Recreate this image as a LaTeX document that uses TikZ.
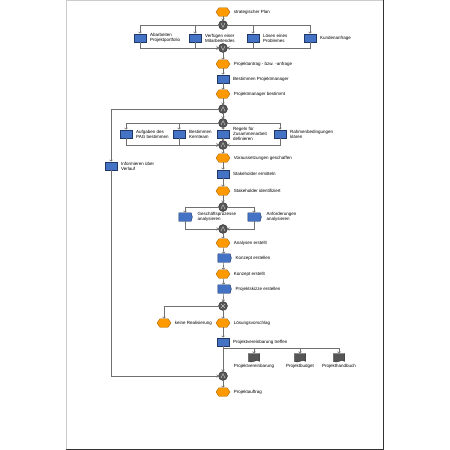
\documentclass[tikz,border=0pt]{standalone}
\usepackage{fontspec}
\setmainfont{Liberation Sans}
\usetikzlibrary{arrows.meta,shapes.symbols,calc}
\definecolor{evfill}{HTML}{FF9900}
\definecolor{evline}{HTML}{A86400}
\definecolor{fnfill}{HTML}{4472C4}
\definecolor{fnline}{HTML}{1F3864}
\definecolor{cnfill}{HTML}{555555}
\definecolor{cnline}{HTML}{333333}
\definecolor{flowc}{HTML}{707070}
\definecolor{docfill}{HTML}{555555}
\tikzset{
  evt/.style={shape=signal, signal to=east and west, signal pointer angle=110, minimum width=14pt, minimum height=8.5pt, inner sep=0pt, fill=evfill, draw=evline, line width=0.4pt},
  fn/.style={rectangle, minimum width=11.5pt, minimum height=8.5pt, inner sep=0pt, fill=fnfill, draw=fnline, line width=0.4pt},
  pfn/.style={shape=signal, signal to=east, signal pointer angle=150, minimum width=13.5pt, minimum height=8.5pt, inner sep=0pt, fill=fnfill, draw=fnline, line width=0.4pt},
  conn/.style={circle, minimum size=9pt, inner sep=0pt, fill=cnfill, draw=cnline, line width=0.4pt},
  docu/.style={shape=tape, tape bend top=none, tape bend height=1.5pt, minimum width=11.5pt, minimum height=8.5pt, inner sep=0pt, fill=docfill, draw=cnline, line width=0.4pt},
  lbl/.style={anchor=west, font=\fontsize{4.5}{5.2}\selectfont, inner sep=0pt, align=left},
  dlbl/.style={anchor=north, font=\fontsize{4.5}{5.2}\selectfont, inner sep=0pt},
  flow/.style={draw=flowc, line width=0.6pt, -{Straight Barb[length=1.3pt,width=3pt]}},
  sym/.style={draw=black!25, line width=0.5pt},
}
\newcommand\epcAnd[1]{\draw[sym] ($(#1)+(-2,2)$) -- ($(#1)+(0,-2.2)$) -- ($(#1)+(2,2)$);}
\newcommand\epcOr[1]{\draw[sym] ($(#1)+(-2,-2)$) -- ($(#1)+(0,2.2)$) -- ($(#1)+(2,-2)$);}
\newcommand\epcXor[1]{\draw[sym] ($(#1)+(-2,-2)$) -- ($(#1)+(2,2)$) ($(#1)+(2,-2)$) -- ($(#1)+(-2,2)$);}
\begin{document}
\begin{tikzpicture}[x=1pt,y=-1pt]
\useasboundingbox (0,0) rectangle (450,450);
% page
\draw[black!20, line width=0.6pt] (66,449) -- (66,0.3) -- (383,0.3);
\draw[black!80, line width=1pt] (383,0) -- (383,449) -- (66,449);

% nodes
\node[evt] (e1) at (223,12) {};
\node[conn] (c1) at (223,25) {};
\node[fn] (f1a) at (140,38) {};
\node[fn] (f1b) at (195,38) {};
\node[fn] (f1c) at (253,38) {};
\node[fn] (f1d) at (310,38) {};
\node[conn] (c2) at (223,48) {};
\node[evt] (e2) at (223,64) {};
\node[fn] (f2) at (223,79) {};
\node[evt] (e3) at (223,94) {};
\node[conn] (c3) at (223,109) {};
\node[conn] (c4) at (223,123) {};
\node[fn] (f4a) at (126,134) {};
\node[fn] (f4b) at (179,134) {};
\node[fn] (f4c) at (223,134) {};
\node[fn] (f4d) at (280,134) {};
\node[conn] (c5) at (223,145) {};
\node[evt] (e5) at (223,158) {};
\node[fn] (f5) at (223,174) {};
\node[evt] (e6) at (223,191) {};
\node[conn] (c6) at (223,207) {};
\node[pfn] (f6a) at (185,217) {};
\node[pfn] (f6b) at (254,217) {};
\node[conn] (c7) at (223,229) {};
\node[evt] (e7) at (223,243) {};
\node[pfn] (f7) at (224,258) {};
\node[evt] (e8) at (223,274) {};
\node[pfn] (f8) at (224,289) {};
\node[conn] (c8) at (223,306) {};
\node[evt] (e9a) at (164,323) {};
\node[evt] (e9b) at (223,323) {};
\node[fn] (f9) at (223,342) {};
\node[docu] (d1) at (254,357) {};
\node[docu] (d2) at (300,357) {};
\node[docu] (d3) at (339,357) {};
\node[fn] (fi) at (111,166) {};
\node[conn] (c9) at (223,376) {};
\node[evt] (e10) at (223,392) {};

% connector symbols
\epcOr{c1} \epcOr{c2} \epcAnd{c3} \epcAnd{c4} \epcAnd{c5}
\epcAnd{c6} \epcAnd{c7} \epcXor{c8} \epcAnd{c9}

% labels
\node[lbl] at ($(e1.east)+(3.5,0)$) {strategischer Plan};
\node[lbl] at ($(f1a.east)+(4,0)$) {Abarbeiten\\Projektportfolio};
\node[lbl] at ($(f1b.east)+(4,0)$) {Verfügen einer\\Mitarbeitendes};
\node[lbl] at ($(f1c.east)+(4,0)$) {Lösen eines\\Problemes};
\node[lbl] at ($(f1d.east)+(4,0)$) {Kundenanfrage};
\node[lbl] at ($(e2.east)+(3.5,0)$) {Projektantrag - bzw. -anfrage};
\node[lbl] at ($(f2.east)+(4,0)$) {Bestimmen Projektmanager};
\node[lbl] at ($(e3.east)+(3.5,0)$) {Projektmanager bestimmt};
\node[lbl] at ($(f4a.east)+(4,0)$) {Aufgaben des\\PAG bestimmen};
\node[lbl] at ($(f4b.east)+(4,0)$) {Bestimmen\\Kernteam};
\node[lbl] at ($(f4c.east)+(4,0)$) {Regeln für\\Zusammenarbeit\\definieren};
\node[lbl] at ($(f4d.east)+(4,0)$) {Rahmenbedingungen\\klären};
\node[lbl] at ($(e5.east)+(3.5,0)$) {Voraussetzungen geschaffen};
\node[lbl] at ($(f5.east)+(4,0)$) {Stakeholder ermitteln};
\node[lbl] at ($(e6.east)+(3.5,0)$) {Stakeholder identifiziert};
\node[lbl] at ($(f6a.east)+(5,0)$) {Geschäftsprozesse\\analysieren};
\node[lbl] at ($(f6b.east)+(5,0)$) {Anforderungen\\analysieren};
\node[lbl] at ($(e7.east)+(3.5,0)$) {Analysen erstellt};
\node[lbl] at ($(f7.east)+(4,0)$) {Konzept erstellen};
\node[lbl] at ($(e8.east)+(3.5,0)$) {Konzept erstellt};
\node[lbl] at ($(f8.east)+(4,0)$) {Projektskizze erstellen};
\node[lbl] at ($(e9a.east)+(3.5,0)$) {keine Realisierung};
\node[lbl] at ($(e9b.east)+(3.5,0)$) {Lösungsvorschlag};
\node[lbl] at ($(f9.east)+(4,0)$) {Projektvereinbarung treffen};
\node[dlbl] at ($(d1.south)+(0,3)$) {Projektvereinbarung};
\node[dlbl] at ($(d2.south)+(0,3)$) {Projektbudget};
\node[dlbl] at ($(d3.south)+(0,3)$) {Projekthandbuch};
\node[lbl] at ($(fi.east)+(4,0)$) {Informieren über\\Verlauf};
\node[lbl] at ($(e10.east)+(3.5,0)$) {Projektauftrag};

% connections
\draw[flow] (e1) -- (c1);
\draw[flow] (c1.west) -| (f1a.north);
\draw[flow] (c1.west) -| (f1b.north);
\draw[flow] (c1.east) -| (f1c.north);
\draw[flow] (c1.east) -| (f1d.north);
\draw[flow] (f1a.south) |- (c2.west);
\draw[flow] (f1b.south) |- (c2.west);
\draw[flow] (f1c.south) |- (c2.east);
\draw[flow] (f1d.south) |- (c2.east);
\draw[flow] (c2) -- (e2);
\draw[flow] (e2) -- (f2);
\draw[flow] (f2) -- (e3);
\draw[flow] (e3) -- (c3);
\draw[flow] (c3) -- (c4);
\draw[flow] (c3.west) -| (fi.north);
\draw[flow] (c4.west) -| (f4a.north);
\draw[flow] (c4.west) -| (f4b.north);
\draw[flow] (c4) -- (f4c);
\draw[flow] (c4.east) -| (f4d.north);
\draw[flow] (f4a.south) |- (c5.west);
\draw[flow] (f4b.south) |- (c5.west);
\draw[flow] (f4c) -- (c5);
\draw[flow] (f4d.south) |- (c5.east);
\draw[flow] (c5) -- (e5);
\draw[flow] (e5) -- (f5);
\draw[flow] (f5) -- (e6);
\draw[flow] (e6) -- (c6);
\draw[flow] (c6.west) -| (f6a.north);
\draw[flow] (c6.east) -| (f6b.north);
\draw[flow] (f6a.south) |- (c7.west);
\draw[flow] (f6b.south) |- (c7.east);
\draw[flow] (c7) -- (e7);
\draw[flow] (e7) -- (f7);
\draw[flow] (f7) -- (e8);
\draw[flow] (e8) -- (f8);
\draw[flow] (f8) -- (c8);
\draw[flow] (c8.west) -| (e9a.north);
\draw[flow] (c8) -- (e9b);
\draw[flow] (e9b) -- (f9);
\coordinate (fb) at (223,348.5);
\draw[flow] (fb) -| (d1.north);
\draw[flow] (fb) -| (d2.north);
\draw[flow] (fb) -| (d3.north);
\draw[flow] (f9) -- (c9);
\draw[flow] (fi.south) |- (c9.west);
\draw[flow] (c9) -- (e10);
\end{tikzpicture}
\end{document}
